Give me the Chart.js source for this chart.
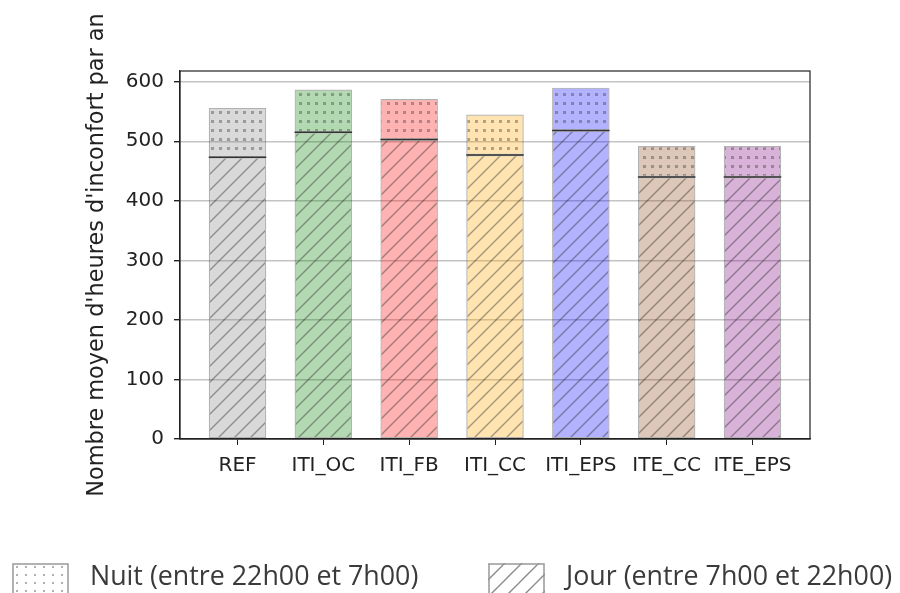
<!DOCTYPE html>
<html>
<head>
<meta charset="utf-8">
<script src="https://cdn.jsdelivr.net/npm/chart.js@4.4.1/dist/chart.umd.min.js"></script>
<style>
  html, body { margin: 0; padding: 0; background: #fff; overflow: hidden; }
  #wrap { position: absolute; left: 0; top: 0; width: 900px; height: 593px; }
  .leg { position: absolute; top: 560px; font-family: "Open Sans", sans-serif; font-size: 26.8px; color: #3a3a3a; white-space: nowrap; }
  .leg canvas { position: absolute; left: 0; top: 3px; }
  .leg span { position: absolute; left: 78px; top: -4px; }
</style>
</head>
<body>
<div id="wrap"><canvas id="chart" width="900" height="593"></canvas></div>
<div class="leg" style="left:12px"><canvas id="legNuit" width="57" height="33"></canvas><span>Nuit (entre 22h00 et 7h00)</span></div>
<div class="leg" style="left:488px"><canvas id="legJour" width="57" height="33"></canvas><span>Jour (entre 7h00 et 22h00)</span></div>
<script>
// categories and values
var categories = ["REF", "ITI_OC", "ITI_FB", "ITI_CC", "ITI_EPS", "ITE_CC", "ITE_EPS"];
var jourValues = [473, 515, 503, 477, 518, 440, 440];
var nuitValues = [83, 72, 68, 68, 72, 52, 52];
var yTicks = [0, 100, 200, 300, 400, 500, 600];

var baseColors = ["128,128,128", "0,128,0", "255,0,0", "255,165,0", "0,0,255", "139,69,19", "128,0,128"];

// hatch '//' tile
function hatchPattern(fill, step, stroke) {
    var c = document.createElement('canvas');
    c.width = step; c.height = step;
    var g = c.getContext('2d');
    g.fillStyle = fill;
    g.fillRect(0, 0, step, step);
    g.strokeStyle = stroke;
    g.lineWidth = 1.4;
    g.beginPath();
    g.moveTo(-1, step + 1); g.lineTo(step + 1, -1);
    g.moveTo(-2, 2); g.lineTo(2, -2);
    g.moveTo(step - 2, step + 2); g.lineTo(step + 2, step - 2);
    g.stroke();
    return g.createPattern(c, 'repeat');
}

// dots '..' tile
function dotPattern(fill, w, h, s) {
    var c = document.createElement('canvas');
    c.width = w; c.height = h;
    var g = c.getContext('2d');
    g.fillStyle = fill;
    g.fillRect(0, 0, w, h);
    g.fillStyle = 'rgba(60,60,60,0.4)';
    g.fillRect(Math.round(w / 2 - s / 2), Math.round(h / 2 - s / 2), s, s);
    return g.createPattern(c, 'repeat');
}

var ctx = document.getElementById('chart').getContext('2d');
var jourFill = baseColors.map(function (c) { return hatchPattern('rgba(' + c + ',0.3)', 16, 'rgba(30,30,30,0.4)'); });
var nuitFill = baseColors.map(function (c) { return dotPattern('rgba(' + c + ',0.3)', 8, 9, 3); });

var separator = {
    id: 'separator',
    afterDatasetsDraw: function (chart) {
        var meta = chart.getDatasetMeta(0);
        var g = chart.ctx;
        g.save();
        g.strokeStyle = '#333';
        g.lineWidth = 1.5;
        meta.data.forEach(function (el) {
            g.beginPath();
            g.moveTo(el.x - el.width / 2, el.y);
            g.lineTo(el.x + el.width / 2, el.y);
            g.stroke();
        });
        g.restore();
    },
    afterDraw: function (chart) {
        var a = chart.chartArea;
        var g = chart.ctx;
        g.save();
        g.strokeStyle = '#222';
        g.lineWidth = 1.2;
        g.strokeRect(a.left, a.top, a.right - a.left, a.bottom - a.top);
        g.restore();
    }
};

var tickFont = { family: "'DejaVu Sans'", size: 20 };

new Chart(ctx, {
    type: 'bar',
    data: {
        datasets: [{
            label: 'Jour (entre 7h00 et 22h00)',
            data: jourValues.map(function (v, i) { return { x: i, y: v }; }),
            backgroundColor: jourFill,
            borderColor: 'rgba(0,0,0,0.3)',
            borderWidth: 1.2,
            borderSkipped: false,
            barPercentage: 0.67,
            categoryPercentage: 1
        }, {
            label: 'Nuit (entre 22h00 et 7h00)',
            data: nuitValues.map(function (v, i) { return { x: i, y: v }; }),
            backgroundColor: nuitFill,
            borderColor: 'rgba(0,0,0,0.3)',
            borderWidth: 1.2,
            borderSkipped: false,
            barPercentage: 0.67,
            categoryPercentage: 1
        }]
    },
    options: {
        responsive: false,
        animation: false,
        layout: { padding: { left: 0, top: 71, right: 90, bottom: 94 } },
        plugins: { legend: { display: false }, tooltip: { enabled: false } },
        scales: {
            x: {
                type: 'linear',
                stacked: true,
                offset: false,
                min: -0.67,
                max: 6.67,
                afterFit: function (s) { s.height = 60; },
                afterBuildTicks: function (s) { s.ticks = categories.map(function (c, i) { return { value: i }; }); },
                ticks: {
                    stepSize: 1,
                    includeBounds: false,
                    autoSkip: false,
                    maxRotation: 0,
                    padding: 9,
                    color: '#222',
                    font: tickFont,
                    callback: function (v) { return categories[v]; }
                },
                grid: { offset: false, drawOnChartArea: false, tickLength: 6, tickColor: '#222' },
                border: { color: '#222', width: 1.2 }
            },
            y: {
                stacked: true,
                min: 0,
                max: 618,
                afterFit: function (s) { s.width = 180; },
                afterBuildTicks: function (s) { s.ticks = yTicks.map(function (v) { return { value: v }; }); },
                ticks: { padding: 10, color: '#222', font: tickFont },
                grid: { color: '#c4c4c4', lineWidth: 1.4, tickLength: 6, tickColor: '#222' },
                border: { color: '#222', width: 1.2 },
                title: {
                    display: true,
                    text: "Nombre moyen d'heures d'inconfort par an",
                    color: '#222',
                    font: { family: "'DejaVu Sans'", size: 22.4 },
                    padding: { top: 84, bottom: 0 }
                }
            }
        }
    },
    plugins: [separator]
});

// legend boxes
function legendBox(id, pat) {
    var c = document.getElementById(id);
    var g = c.getContext('2d');
    g.fillStyle = pat;
    g.fillRect(0, 0, c.width, c.height);
    g.strokeStyle = '#999';
    g.lineWidth = 1.5;
    g.strokeRect(1, 1, c.width - 2, c.height - 2);
}
legendBox('legNuit', dotPattern('#fff', 9, 8, 2));
legendBox('legJour', hatchPattern('#fff', 17, 'rgba(60,60,60,0.6)'));
</script>
</body>
</html>
